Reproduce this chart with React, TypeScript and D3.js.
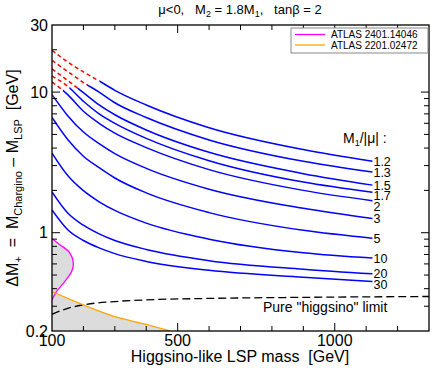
import React from 'react';
import * as d3 from 'd3';

const W = 432;
const H = 368;

// M1/|mu| of each curve
const ratioLabels = ['1.2', '1.3', '1.5', '1.7', '2', '3', '5', '10', '20', '30'];
// LSP masses (GeV) where the curves were read
const lspMass = [100, 150, 200, 250, 300, 400, 600, 900, 1120];
// Delta M+ (GeV) along each curve
const dm12 = [19.8, 16.4, 13.9, 12.0, 10.3, 8.1, 5.58, 3.9, 3.22];
const dm13 = [16.8, 14.0, 11.7, 10.0, 8.4, 6.6, 4.57, 3.22, 2.7];
const dm15 = [14.6, 12.1, 9.9, 8.1, 6.9, 5.38, 3.73, 2.63, 2.18];
const dm17 = [13.0, 11.0, 8.6, 7.0, 6.0, 4.69, 3.25, 2.29, 1.94];
const dm2 = [11.8, 9.6, 7.3, 6.0, 5.1, 4.03, 2.81, 2.0, 1.69];
const dm3 = [9.6, 6.8, 5.2, 4.3, 3.65, 2.87, 2.04, 1.49, 1.26];
const dm5 = [6.6, 4.6, 3.5, 2.9, 2.45, 1.92, 1.39, 1.04, 0.915];
const dm10 = [3.68, 2.55, 1.99, 1.66, 1.44, 1.17, 0.9, 0.72, 0.66];
const dm20 = [1.95, 1.38, 1.13, 0.98, 0.88, 0.76, 0.633, 0.55, 0.51];
const dm30 = [1.45, 1.05, 0.88, 0.78, 0.71, 0.625, 0.54, 0.482, 0.45];
const curveValues = [dm12, dm13, dm15, dm17, dm2, dm3, dm5, dm10, dm20, dm30];
// below this mass the curve is drawn red dashed
const splitMass = [252, 211, 180, 157, 135, 104, 100, 100, 100, 100];

// ATLAS 2401.14046 exclusion contour
const atlasAMass = [100, 125, 157, 168, 163, 141, 115, 100];
const atlasADm = [0.906, 0.822, 0.717, 0.609, 0.531, 0.451, 0.382, 0.334];
// ATLAS 2201.02472 exclusion line
const atlasBMass = [100, 200, 300, 400, 475];
const atlasBDm = [0.382, 0.307, 0.253, 0.223, 0.2];
// pure higgsino limit
const higgsMass = [100, 150, 200, 300, 400, 600, 900, 1300];
const higgsDm = [0.263, 0.29, 0.307, 0.324, 0.333, 0.341, 0.347, 0.352];

const xTicks = [200, 300, 400, 500, 600, 700, 800, 900, 1000, 1100, 1200];
const xMajor = [500, 1000];
const xLabels = [100, 500, 1000];
const yTicks = [0.3, 0.4, 0.5, 0.6, 0.7, 0.8, 0.9, 1, 2, 3, 4, 5, 6, 7, 8, 9, 10, 20];
const yMajor = [1, 10];
const yLabels = [
  { v: 30, t: '30' },
  { v: 10, t: '10' },
  { v: 1, t: '1' },
  { v: 0.2, t: '0.2' },
];

const FONT = '"Liberation Sans", Arial, Helvetica, sans-serif';

const App = () => {
  const left = 52, right = 429, top = 25, bottom = 331;
  const x = d3.scaleLinear().domain([100, 1300]).range([left, right]);
  const y = d3.scaleLog().domain([0.2, 30]).range([bottom, top]);

  const line = d3.line<[number, number]>()
    .x(d => x(d[0]))
    .y(d => y(d[1]))
    .curve(d3.curveMonotoneX);

  const loop = d3.line<[number, number]>()
    .x(d => x(d[0]))
    .y(d => y(d[1]))
    .curve(d3.curveCatmullRom);

  const atlasA: [number, number][] = atlasAMass.map((m, i) => [m, atlasADm[i]]);
  const atlasB: [number, number][] = atlasBMass.map((m, i) => [m, atlasBDm[i]]);
  const higgs: [number, number][] = higgsMass.map((m, i) => [m, higgsDm[i]]);

  const areaB = d3.area<[number, number]>()
    .x(d => x(d[0]))
    .y0(y(0.2))
    .y1(d => y(d[1]))
    .curve(d3.curveMonotoneX);

  // label positions: end of curve, pushed down to avoid overlap
  let prev = -100;
  const labelY = curveValues.map(vals => {
    const ly = Math.max(y(vals[vals.length - 1]), prev + 10.5);
    prev = ly;
    return ly;
  });
  const endX = x(lspMass[lspMass.length - 1]);

  const txt = { fontFamily: FONT, fill: '#000' };

  return (
    <svg width={W} height={H} style={{ position: 'absolute', left: 0, top: 0, background: '#fff' }}>
      <defs>
        <clipPath id="plotclip">
          <rect x={left} y={top} width={right - left} height={bottom - top} />
        </clipPath>
        {splitMass.map((s, i) => (
          <React.Fragment key={i}>
            <clipPath id={`lo${i}`}>
              <rect x={left} y={top} width={x(s) - left} height={bottom - top} />
            </clipPath>
            <clipPath id={`hi${i}`}>
              <rect x={x(s)} y={top} width={right - x(s)} height={bottom - top} />
            </clipPath>
          </React.Fragment>
        ))}
      </defs>

      {/* title */}
      <text x={240} y={14} textAnchor="middle" fontSize={13} style={{ ...txt, whiteSpace: 'pre' }}>
        {'μ<0,   M'}
        <tspan fontSize={9} dy={3}>2</tspan>
        <tspan dy={-3}>{' = 1.8M'}</tspan>
        <tspan fontSize={9} dy={3}>1</tspan>
        <tspan dy={-3}>{',   tanβ = 2'}</tspan>
      </text>

      <g clipPath="url(#plotclip)">
        {/* excluded regions */}
        <path d={loop(atlasA) + 'Z'} fill="#dcdcdc" stroke="none" />
        <path d={areaB(atlasB) || ''} fill="#dcdcdc" stroke="none" />

        {/* pure higgsino limit */}
        <path d={line(higgs) || ''} fill="none" stroke="#000" strokeWidth={1.3} strokeDasharray="8,4" />

        <path d={loop(atlasA) || ''} fill="none" stroke="#ff00ff" strokeWidth={1.3} />
        <path d={line(atlasB) || ''} fill="none" stroke="#ffa500" strokeWidth={1.3} />

        {curveValues.map((vals, i) => {
          const pts: [number, number][] = lspMass.map((m, j) => [m, vals[j]]);
          const d = line(pts) || '';
          return (
            <g key={i}>
              <path d={d} fill="none" stroke="#ff0000" strokeWidth={1.5} strokeDasharray="4,3" clipPath={`url(#lo${i})`} />
              <path d={d} fill="none" stroke="#0000ff" strokeWidth={1.5} clipPath={`url(#hi${i})`} />
            </g>
          );
        })}
      </g>

      {/* curve labels */}
      <text x={343} y={143} fontSize={14} style={txt}>
        M<tspan fontSize={9} dy={3}>1</tspan><tspan dy={-3}>/|μ| :</tspan>
      </text>
      {ratioLabels.map((l, i) => (
        <text key={l} x={endX + 1} y={labelY[i]} dy="0.36em" fontSize={12.5} style={txt}>{l}</text>
      ))}

      <text x={263} y={312} fontSize={14} style={txt}>Pure "higgsino" limit</text>

      {/* ticks */}
      {xTicks.map(t => {
        const len = xMajor.includes(t) ? 8 : 5;
        return (
          <g key={'xt' + t} stroke="#000" strokeWidth={1}>
            <line x1={x(t)} x2={x(t)} y1={bottom} y2={bottom - len} />
            <line x1={x(t)} x2={x(t)} y1={top} y2={top + len} />
          </g>
        );
      })}
      {yTicks.map(t => {
        const len = yMajor.includes(t) ? 8 : 5;
        return (
          <g key={'yt' + t} stroke="#000" strokeWidth={1}>
            <line x1={left} x2={left + len} y1={y(t)} y2={y(t)} />
            <line x1={right} x2={right - len} y1={y(t)} y2={y(t)} />
          </g>
        );
      })}

      {/* frame */}
      <rect x={left} y={top} width={right - left} height={bottom - top} fill="none" stroke="#000" strokeWidth={1.3} />

      {/* tick labels */}
      {xLabels.map(t => (
        <text key={'xl' + t} x={x(t)} y={346} textAnchor="middle" fontSize={16} style={txt}>{t}</text>
      ))}
      {yLabels.map(d => (
        <text key={'yl' + d.t} x={48} y={y(d.v)} dy="0.36em" textAnchor="end" fontSize={16} style={txt}>{d.t}</text>
      ))}

      {/* axis titles */}
      <text x={240} y={362} textAnchor="middle" fontSize={16} style={{ ...txt, whiteSpace: 'pre' }}>
        {'Higgsino-like LSP mass  [GeV]'}
      </text>
      <text transform="translate(18,178) rotate(-90)" textAnchor="middle" fontSize={16} style={{ ...txt, whiteSpace: 'pre' }}>
        {'ΔM'}
        <tspan fontSize={11} dy={4}>+</tspan>
        <tspan dy={-4}>{'  =  M'}</tspan>
        <tspan fontSize={11} dy={4}>Chargino</tspan>
        <tspan dy={-4}>{' – M'}</tspan>
        <tspan fontSize={11} dy={4}>LSP</tspan>
        <tspan dy={-4}>{'  [GeV]'}</tspan>
      </text>

      {/* legend */}
      <rect x={291} y={28} width={137} height={25} fill="#fff" stroke="#888" strokeWidth={1} />
      <line x1={295} x2={325} y1={34.5} y2={34.5} stroke="#ff00ff" strokeWidth={1.3} />
      <text x={331} y={34.5} dy="0.36em" fontSize={10} style={txt}>ATLAS 2401.14046</text>
      <line x1={295} x2={325} y1={45} y2={45} stroke="#ffa500" strokeWidth={1.3} />
      <text x={331} y={45} dy="0.36em" fontSize={10} style={txt}>ATLAS 2201.02472</text>
    </svg>
  );
};

export default App;
